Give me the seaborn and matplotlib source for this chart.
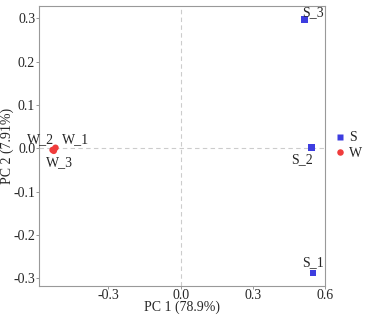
import matplotlib
matplotlib.use("Agg")
import matplotlib.pyplot as plt
import seaborn as sns
import pandas as pd

# PCA scores
samples = ["S_1", "S_2", "S_3", "W_1", "W_2", "W_3"]
groups = ["S", "S", "S", "W", "W", "W"]
pc1 = [0.550, 0.543, 0.515, -0.520, -0.532, -0.527]
pc2 = [-0.288, 0.002, 0.297, 0.001, -0.004, -0.006]
x_ticks = [-0.3, 0.0, 0.3, 0.6]
y_ticks = [-0.3, -0.2, -0.1, 0.0, 0.1, 0.2, 0.3]

df = pd.DataFrame({"sample": samples, "group": groups, "PC1": pc1, "PC2": pc2})

sns.set_style("white")
plt.rcParams["font.family"] = ["Liberation Serif", "DejaVu Serif"]
plt.rcParams["axes.unicode_minus"] = False

fig, ax = plt.subplots(figsize=(3.75, 3.16), dpi=100)
fig.subplots_adjust(left=0.103, right=0.867, top=0.981, bottom=0.096)

ax.axhline(0, color="#cccccc", ls=(0, (4, 3)), lw=0.8, zorder=0)
ax.axvline(0, color="#cccccc", ls=(0, (4, 3)), lw=0.8, zorder=0)

sns.scatterplot(data=df, x="PC1", y="PC2", hue="group", style="group",
                palette={"S": "#3d3de0", "W": "#f03c3c"},
                markers={"S": "s", "W": "o"}, s=22, edgecolor="none", ax=ax)

# label offsets (points)
offsets = {"S_1": (0, 3, "center", "bottom"), "S_2": (-6.5, -4, "center", "top"),
           "S_3": (6, 0, "center", "bottom"), "W_1": (5, 1, "left", "bottom"),
           "W_2": (1, 3, "right", "bottom"), "W_3": (4, -4, "center", "top")}
for s, x, y in zip(samples, pc1, pc2):
    dx, dy, ha, va = offsets[s]
    ax.annotate(s, (x, y), xytext=(dx, dy), textcoords="offset points",
                ha=ha, va=va, fontsize=10)

ax.set_xlim(-0.59, 0.6)
ax.set_ylim(-0.317, 0.328)
ax.set_xticks(x_ticks)
ax.set_xticklabels([f"{t:.1f}" for t in x_ticks])
ax.set_yticks(y_ticks)
ax.set_yticklabels([f"{t:.1f}" for t in y_ticks])
ax.set_xlabel("PC 1 (78.9%)", fontsize=10, labelpad=-1)
ax.set_ylabel("PC 2 (7.91%)", fontsize=10)
ax.yaxis.set_label_coords(-0.085, 0.5)
ax.tick_params(axis="both", labelsize=10, length=2, width=0.6, color="#888888",
               pad=0.5, direction="out", bottom=True, left=True)
for sp in ax.spines.values():
    sp.set_color("#999999")
    sp.set_linewidth(0.8)

ax.legend(title=None, loc="center left", bbox_to_anchor=(1.01, 0.5),
          frameon=False, fontsize=10, handletextpad=0.1, borderaxespad=0,
          labelspacing=0.2, handlelength=1.0, markerscale=1.0)

fig.savefig("out.png", dpi=100)
